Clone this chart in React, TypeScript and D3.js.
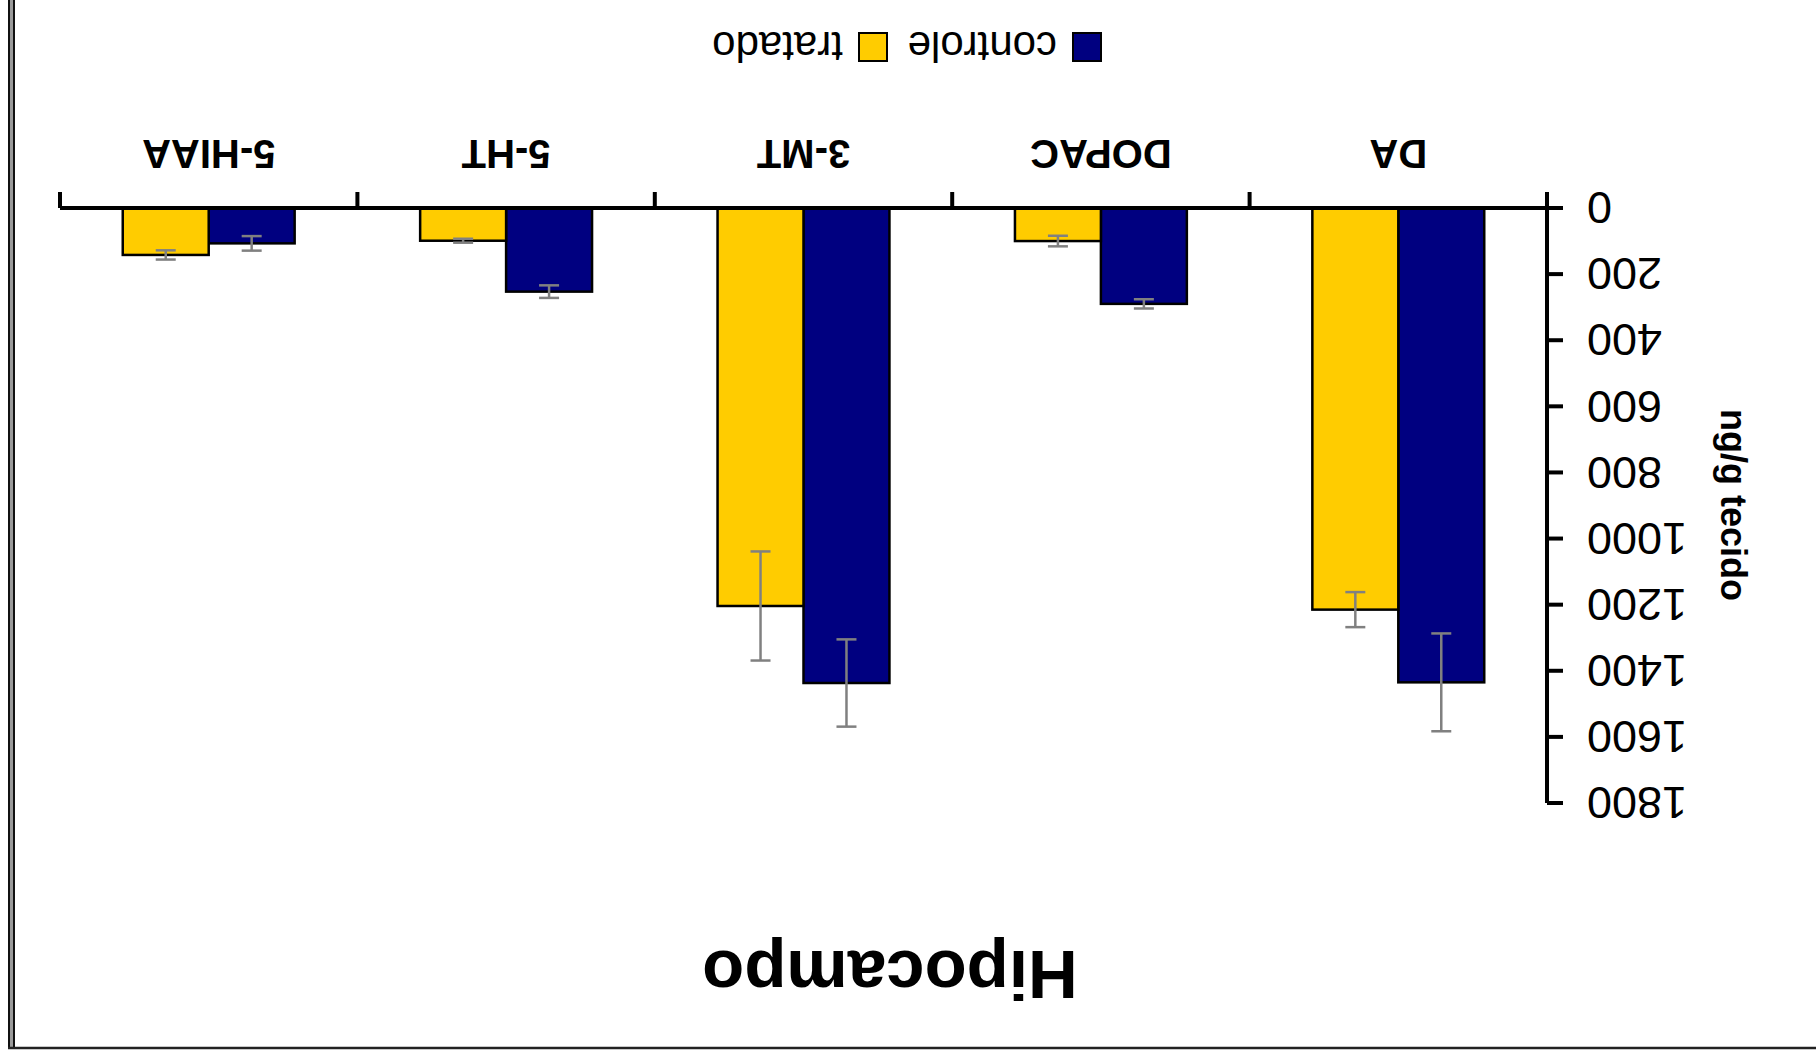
import React from "react";
import * as d3 from "d3";

const categories = ["DA", "DOPAC", "3-MT", "5-HT", "5-HIAA"];
const seriesNames = ["controle", "tratado"];
const controleValues = [1435, 290, 1437, 253, 107];
const controleErrors = [148, 14, 132, 19, 22];
const tratadoValues = [1215, 100, 1204, 99, 142];
const tratadoErrors = [53, 16, 165, 6, 14];
const yTickValues = [0, 200, 400, 600, 800, 1000, 1200, 1400, 1600, 1800];
const title = "Hipocampo";
const yAxisTitle = "ng/g tecido";

const colors: Record<string, string> = { controle: "#000080", tratado: "#FFCC00" };
const FONT = "'Liberation Sans', Arial, sans-serif";

const W = 1816;
const H = 1058;

export default function App() {
  const x0 = d3.scaleBand<string>().domain(categories).range([269, 1756]).paddingInner(0).paddingOuter(0);
  const bw = x0.bandwidth();
  const x1 = d3.scaleBand<string>().domain(seriesNames).range([bw * 0.211, bw * 0.789]).padding(0);
  const y = d3.scaleLinear().domain([0, 1800]).range([850, 255]);

  const data = categories.map((c, i) => ({
    cat: c,
    vals: [
      { s: "controle", v: controleValues[i], e: controleErrors[i] },
      { s: "tratado", v: tratadoValues[i], e: tratadoErrors[i] },
    ],
  }));

  const boundaries = categories.map((c) => x0(c) as number).concat([(x0(categories[categories.length - 1]) as number) + bw]);
  const capW = 10;

  return (
    <svg width={W} height={H} style={{ position: "absolute", left: 0, top: 0, background: "#fff" }}>
      <rect x={0} y={0} width={W} height={H} fill="#fff" />
      {/* frame (in screen coordinates) */}
      <rect x={8} y={0} width={7} height={1049} fill="#9a9a9a" />
      <line x1={9} y1={0} x2={9} y2={1049} stroke="#111" strokeWidth={2} />
      <line x1={14} y1={0} x2={14} y2={1049} stroke="#111" strokeWidth={2} />
      <line x1={8} y1={1048} x2={W} y2={1048} stroke="#222" strokeWidth={2.5} />

      <g transform={`rotate(180 ${W / 2} ${H / 2})`}>
        {/* title */}
        <text x={926} y={107} textAnchor="middle" fontFamily={FONT} fontWeight="bold" fontSize={69} fill="#000">
          {title}
        </text>

        {/* bars */}
        {data.map((d) => (
          <g key={d.cat} transform={`translate(${x0(d.cat)},0)`}>
            {d.vals.map((b) => (
              <rect
                key={b.s}
                x={x1(b.s)}
                y={y(b.v)}
                width={x1.bandwidth()}
                height={y(0) - y(b.v)}
                fill={colors[b.s]}
                stroke="#000"
                strokeWidth={2.5}
              />
            ))}
            {d.vals.map((b) => {
              const cx = (x1(b.s) as number) + x1.bandwidth() / 2;
              return (
                <g key={b.s + "e"} stroke="#808080" strokeWidth={2.5}>
                  <line x1={cx} x2={cx} y1={y(b.v - b.e)} y2={y(b.v + b.e)} />
                  <line x1={cx - capW} x2={cx + capW} y1={y(b.v - b.e)} y2={y(b.v - b.e)} />
                  <line x1={cx - capW} x2={cx + capW} y1={y(b.v + b.e)} y2={y(b.v + b.e)} />
                </g>
              );
            })}
          </g>
        ))}

        {/* x axis */}
        <line x1={269} x2={1756} y1={y(0)} y2={y(0)} stroke="#000" strokeWidth={4} />
        {boundaries.map((bx, i) => (
          <line key={i} x1={bx} x2={bx} y1={y(0)} y2={y(0) + 16} stroke="#000" strokeWidth={4} />
        ))}
        {categories.map((c) => (
          <text
            key={c}
            x={(x0(c) as number) + bw / 2}
            y={918}
            textAnchor="middle"
            fontFamily={FONT}
            fontWeight="bold"
            fontSize={40}
            fill="#000"
          >
            {c}
          </text>
        ))}

        {/* y axis */}
        <line x1={269} x2={269} y1={y(0) + 2} y2={y(1800)} stroke="#000" strokeWidth={4} />
        {yTickValues.map((t) => (
          <g key={t}>
            <line x1={253} x2={269} y1={y(t)} y2={y(t)} stroke="#000" strokeWidth={4} />
            <text x={229} y={y(t)} dy="0.35em" textAnchor="end" fontFamily={FONT} fontSize={45} fill="#000">
              {t}
            </text>
          </g>
        ))}
        <text
          transform={`translate(95, ${553}) rotate(-90)`}
          textAnchor="middle"
          fontFamily={FONT}
          fontWeight="bold"
          fontSize={36}
          fill="#000"
        >
          {yAxisTitle}
        </text>

        {/* legend */}
        {seriesNames.map((s, i) => {
          const lx = [715, 929][i];
          return (
            <g key={s}>
              <rect x={lx} y={997} width={28} height={28} fill={colors[s]} stroke="#000" strokeWidth={2} />
              <text x={lx + 44} y={1026} fontFamily={FONT} fontSize={42} fill="#000">
                {s}
              </text>
            </g>
          );
        })}
      </g>
    </svg>
  );
}
